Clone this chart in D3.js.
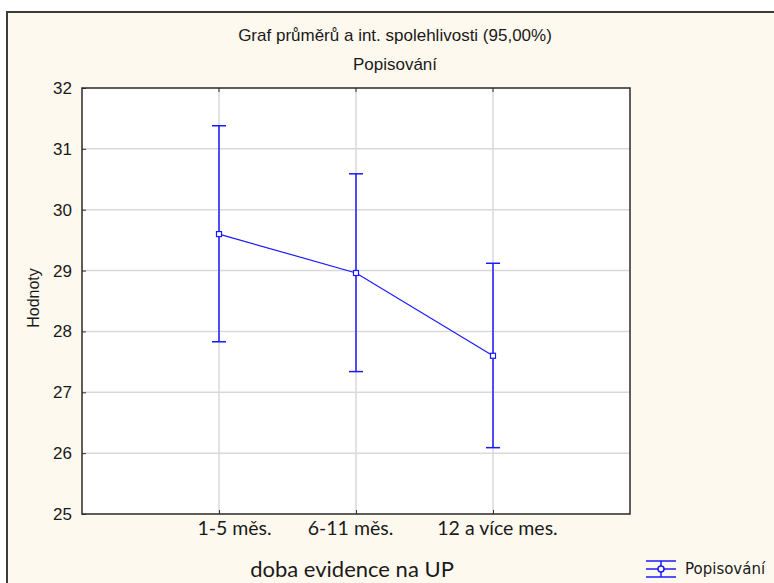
<!DOCTYPE html>
<html>
<head>
<meta charset="utf-8">
<script src="https://cdn.jsdelivr.net/npm/d3@7"></script>
<style>
  html, body { margin: 0; padding: 0; background: #fff; }
  svg { display: block; }
</style>
</head>
<body>
<div id="chart"></div>
<script>
const categories = ['1-5 měs.', '6-11 měs.', '12 a více mes.']
const means = [29.60, 28.96, 27.60]
const lower = [27.83, 27.34, 26.09]
const upper = [31.38, 30.59, 29.12]
const yTicks = [25, 26, 27, 28, 29, 30, 31, 32]

const W = 774
const H = 583
const margin = { top: 88, right: 144, bottom: 69, left: 82 }
const blue = '#1a1aff'
const ink = '#1a1a1a'
// labels in the original sit a little off their ticks
const labelShift = [15, -6, 4]

const svg = d3.select('#chart').append('svg')
  .attr('width', W)
  .attr('height', H)

// outer frame
svg.append('rect')
  .attr('x', 7).attr('y', 12)
  .attr('width', W + 10).attr('height', H + 10)
  .attr('fill', '#fef9ee')
  .attr('stroke', '#3c3c3c')
  .attr('stroke-width', 2)

const x = d3.scalePoint()
  .domain(categories)
  .range([margin.left, W - margin.right])
  .padding(1)

const y = d3.scaleLinear()
  .domain([25, 32])
  .range([H - margin.bottom, margin.top])

// plot area
svg.append('rect')
  .attr('x', margin.left).attr('y', margin.top)
  .attr('width', W - margin.left - margin.right)
  .attr('height', H - margin.top - margin.bottom)
  .attr('fill', '#fff')

// gridlines
svg.append('g')
  .selectAll('line')
  .data(yTicks.slice(1, -1))
  .join('line')
  .attr('x1', margin.left).attr('x2', W - margin.right)
  .attr('y1', d => y(d)).attr('y2', d => y(d))
  .attr('stroke', '#d9d9d9').attr('stroke-width', 1.5)

svg.append('g')
  .selectAll('line')
  .data(categories)
  .join('line')
  .attr('x1', d => x(d)).attr('x2', d => x(d))
  .attr('y1', margin.top).attr('y2', H - margin.bottom)
  .attr('stroke', '#d9d9d9').attr('stroke-width', 1.5)

// axes
const yAxis = svg.append('g')
  .attr('transform', `translate(${margin.left},0)`)
  .call(d3.axisLeft(y).tickValues(yTicks).tickSize(-4).tickPadding(10).tickFormat(d3.format('d')))
yAxis.select('.domain').remove()
yAxis.selectAll('.tick line').attr('stroke', '#333')
yAxis.selectAll('text')
  .attr('font-family', 'Liberation Sans, Arial, sans-serif')
  .attr('font-size', 17)
  .attr('fill', ink)

const xAxis = svg.append('g')
  .attr('transform', `translate(0,${H - margin.bottom})`)
  .call(d3.axisBottom(x).tickSize(-4).tickPadding(7))
xAxis.select('.domain').remove()
xAxis.selectAll('.tick line').attr('stroke', '#333')
xAxis.selectAll('text')
  .attr('dx', (d, i) => labelShift[i])
  .attr('font-family', 'Lato, sans-serif')
  .attr('font-size', 19.5)
  .attr('fill', ink)

// top ticks
svg.append('g')
  .selectAll('line')
  .data(categories)
  .join('line')
  .attr('x1', d => x(d)).attr('x2', d => x(d))
  .attr('y1', margin.top).attr('y2', margin.top + 4)
  .attr('stroke', '#333')

// plot border
svg.append('rect')
  .attr('x', margin.left).attr('y', margin.top)
  .attr('width', W - margin.left - margin.right)
  .attr('height', H - margin.top - margin.bottom)
  .attr('fill', 'none')
  .attr('stroke', '#2a2a2a')
  .attr('stroke-width', 1.5)

// error bars
const bars = svg.append('g')
categories.forEach((c, i) => {
  const cx = x(c)
  bars.append('line')
    .attr('x1', cx).attr('x2', cx)
    .attr('y1', y(lower[i])).attr('y2', y(upper[i]))
    .attr('stroke', blue).attr('stroke-width', 1.5)
  ;[lower[i], upper[i]].forEach(v => {
    bars.append('line')
      .attr('x1', cx - 7).attr('x2', cx + 7)
      .attr('y1', y(v)).attr('y2', y(v))
      .attr('stroke', blue).attr('stroke-width', 1.5)
  })
})

// mean line
const line = d3.line()
  .x((d, i) => x(categories[i]))
  .y(d => y(d))

svg.append('path')
  .datum(means)
  .attr('fill', 'none')
  .attr('stroke', blue)
  .attr('stroke-width', 1.2)
  .attr('d', line)

svg.append('g')
  .selectAll('rect')
  .data(means)
  .join('rect')
  .attr('x', (d, i) => x(categories[i]) - 2.5)
  .attr('y', d => y(d) - 2.5)
  .attr('width', 5).attr('height', 5)
  .attr('fill', '#fff')
  .attr('stroke', blue)
  .attr('stroke-width', 1.2)

// titles
svg.append('text')
  .attr('x', 395).attr('y', 41)
  .attr('text-anchor', 'middle')
  .attr('font-family', 'Liberation Sans, Arial, sans-serif')
  .attr('font-size', 17)
  .attr('fill', ink)
  .text('Graf průměrů a int. spolehlivosti (95,00%)')

svg.append('text')
  .attr('x', 395).attr('y', 70)
  .attr('text-anchor', 'middle')
  .attr('font-family', 'Liberation Sans, Arial, sans-serif')
  .attr('font-size', 17)
  .attr('fill', ink)
  .text('Popisování')

svg.append('text')
  .attr('transform', 'translate(39,298) rotate(-90)')
  .attr('text-anchor', 'middle')
  .attr('font-family', 'Liberation Sans, Arial, sans-serif')
  .attr('font-size', 16)
  .attr('fill', ink)
  .text('Hodnoty')

svg.append('text')
  .attr('x', 352).attr('y', 577)
  .attr('text-anchor', 'middle')
  .attr('font-family', 'Lato, sans-serif')
  .attr('font-size', 22)
  .attr('fill', ink)
  .text('doba evidence na UP')

// legend
const lg = svg.append('g').attr('transform', 'translate(646,569)')
lg.append('line').attr('x1', 0).attr('x2', 30).attr('y1', -8).attr('y2', -8).attr('stroke', blue).attr('stroke-width', 1.5)
lg.append('line').attr('x1', 0).attr('x2', 30).attr('y1', 8).attr('y2', 8).attr('stroke', blue).attr('stroke-width', 1.5)
lg.append('line').attr('x1', 0).attr('x2', 30).attr('y1', 0).attr('y2', 0).attr('stroke', blue).attr('stroke-width', 1.5)
lg.append('line').attr('x1', 15).attr('x2', 15).attr('y1', -8).attr('y2', 8).attr('stroke', blue).attr('stroke-width', 1.5)
lg.append('circle').attr('cx', 15).attr('cy', 0).attr('r', 3).attr('fill', '#fff').attr('stroke', blue).attr('stroke-width', 1.5)
lg.append('text')
  .attr('x', 39).attr('y', 5)
  .attr('font-family', 'DejaVu Sans, sans-serif')
  .attr('font-size', 15)
  .attr('fill', ink)
  .text('Popisování')
</script>
</body>
</html>
